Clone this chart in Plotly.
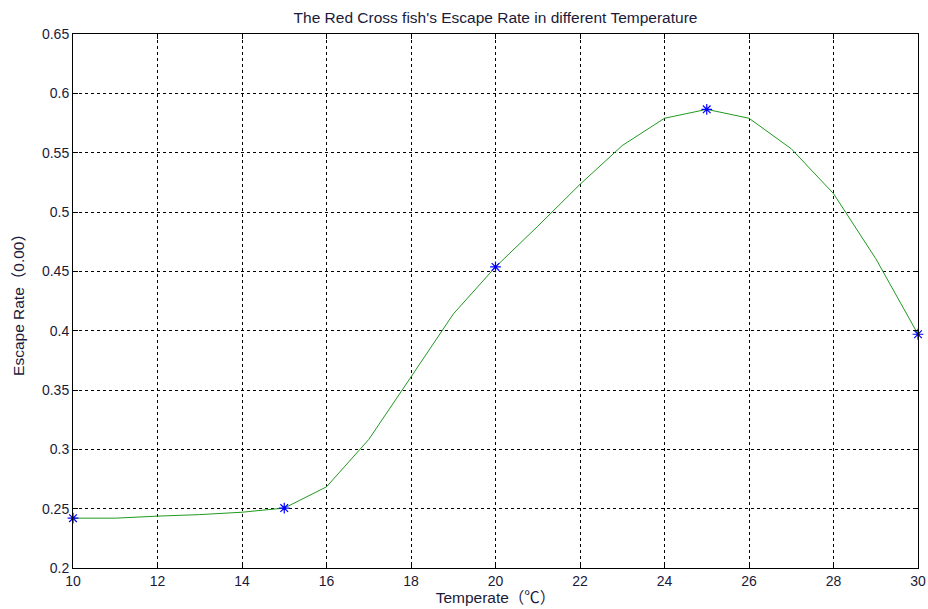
import plotly.graph_objects as go

temps = [10, 11, 12, 13, 14, 15, 16, 17, 18, 19, 20, 21, 22, 23, 24, 25, 26, 27, 28, 29, 30]
rates = [0.242, 0.242, 0.2437, 0.245, 0.247, 0.2505, 0.2684, 0.3083, 0.361, 0.414, 0.4537,
         0.488, 0.5233, 0.556, 0.579, 0.5865, 0.579, 0.5533, 0.5155, 0.4607, 0.397]
mark_temps = [10, 15, 20, 25, 30]
mark_rates = [0.242, 0.2505, 0.4537, 0.5865, 0.397]

x_ticks = list(range(10, 31, 2))
y_ticks = [0.2, 0.25, 0.3, 0.35, 0.4, 0.45, 0.5, 0.55, 0.6, 0.65]
y_labels = ["0.2", "0.25", "0.3", "0.35", "0.4", "0.45", "0.5", "0.55", "0.6", "0.65"]

fig = go.Figure()
fig.add_trace(go.Scatter(x=temps, y=rates, mode="lines",
                         line=dict(color="#1f9a1f", width=1), showlegend=False))
fig.add_trace(go.Scatter(x=mark_temps, y=mark_rates, mode="markers",
                         marker=dict(symbol="asterisk-open", size=9, color="#0000ff",
                                     line=dict(color="#0000ff", width=1.2)),
                         showlegend=False, cliponaxis=False))

font = dict(family="Liberation Sans, Arial, sans-serif", size=14, color="#1a1a3a")
label_font = dict(family="Liberation Sans, Noto Sans CJK SC, sans-serif", size=15.5, color="#1a1a3a")
axis_common = dict(showline=True, linecolor="#000000", linewidth=1, mirror="ticks",
                   ticks="inside", ticklen=5, tickcolor="#000000",
                   showgrid=True, gridcolor="#000000", gridwidth=1, griddash="3px,3px",
                   zeroline=False, tickfont=font, automargin=False)

fig.update_layout(
    width=928, height=609,
    margin=dict(l=73, r=10, t=34, b=41),
    paper_bgcolor="white", plot_bgcolor="white",
    title=dict(text="The Red Cross fish's Escape Rate in different Temperature",
               x=0.5, xanchor="center", xref="paper", y=1 - 18 / 609, yanchor="middle",
               font=dict(family="Liberation Sans, Arial, sans-serif", size=15.5, color="#1a1a3a")),
    xaxis=dict(range=[10, 30], tickvals=x_ticks,
               title=dict(text="Temperate（℃）", standoff=2, font=label_font),
               **axis_common),
    yaxis=dict(range=[0.2, 0.65], tickvals=y_ticks, ticktext=y_labels,
               title=dict(text="Escape Rate（0.00）", standoff=13, font=label_font),
               **axis_common),
)

fig.write_html("out.html")
